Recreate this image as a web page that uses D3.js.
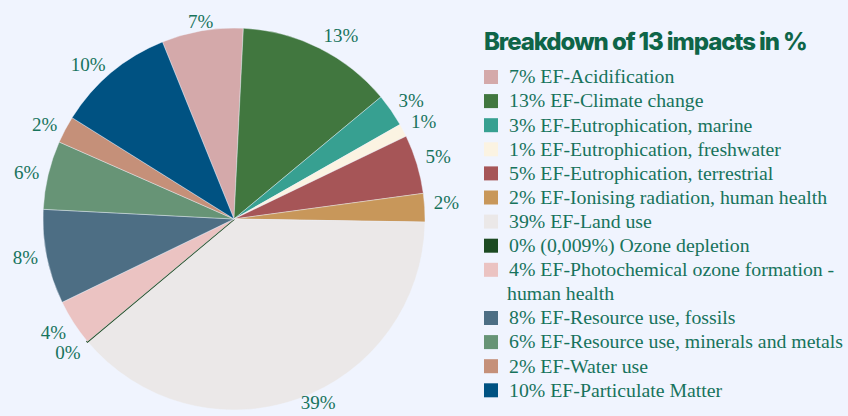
<!DOCTYPE html>
<html>
<head>
<meta charset="utf-8">
<script src="https://cdn.jsdelivr.net/npm/d3@7"></script>
<style>
  html, body { margin: 0; padding: 0; background: #f0f4fe; }
  svg { display: block; }
</style>
</head>
<body>
<div id="chart"></div>
<script>
// dados do grafico
const categorias = [
  "EF-Acidification",
  "EF-Climate change",
  "EF-Eutrophication, marine",
  "EF-Eutrophication, freshwater",
  "EF-Eutrophication, terrestrial",
  "EF-Ionising radiation, human health",
  "EF-Land use",
  "Ozone depletion",
  "EF-Photochemical ozone formation -\nhuman health",
  "EF-Resource use, fossils",
  "EF-Resource use, minerals and metals",
  "EF-Water use",
  "EF-Particulate Matter"
];
const valores = [6.9, 13.2, 2.8, 1.1, 5.0, 2.4, 38.7, 0.009, 3.9, 8.0, 5.8, 2.3, 10.0];
const rotulos = ["7%", "13%", "3%", "1%", "5%", "2%", "39%", "0%", "4%", "8%", "6%", "2%", "10%"];
const rotulosLegenda = ["7%", "13%", "3%", "1%", "5%", "2%", "39%", "0% (0,009%)", "4%", "8%", "6%", "2%", "10%"];
const cores = ["#d4a9aa", "#41773f", "#37a091", "#fbf3e2", "#a65557", "#c8975a", "#ebe8e8",
  "#1c4a22", "#ebc3c2", "#4d6e84", "#679476", "#c59079", "#005282"];
const titulo = "Breakdown of 13 impacts in %";

const width = 848, height = 416;
const cx = 234, cy = 219, raio = 191;
const corTexto = "#17735c";

const data = categorias.map((c, i) => ({
  nome: c, valor: valores[i], rotulo: rotulos[i], legenda: rotulosLegenda[i], cor: cores[i]
}));

const svg = d3.select("#chart").append("svg")
  .attr("width", width).attr("height", height);

svg.append("rect").attr("width", width).attr("height", height).attr("fill", "#f0f4fe");

const pie = d3.pie()
  .sort(null)
  .value(d => d.valor)
  .startAngle(-22 * Math.PI / 180)
  .endAngle((360 - 22) * Math.PI / 180);

const arc = d3.arc().innerRadius(0).outerRadius(raio);
const arcos = pie(data);

const g = svg.append("g").attr("transform", `translate(${cx},${cy})`);

g.selectAll("path")
  .data(arcos)
  .join("path")
  .attr("d", arc)
  .attr("fill", d => d.data.cor)
  .attr("stroke", d => d.data.valor < 0.1 ? d.data.cor : "#f0f4fe")
  .attr("stroke-width", d => d.data.valor < 0.1 ? 2 : 0.4);

// rotulos das fatias
const distRotulo = 200;
g.selectAll("text.rotulo")
  .data(arcos)
  .join("text")
  .attr("class", "rotulo")
  .each(function(d) {
    const a = (d.startAngle + d.endAngle) / 2;
    const s = Math.sin(a), c = Math.cos(a);
    const x = distRotulo * s;
    let y = -distRotulo * c;
    if (s > 0.2) y -= 4;
    if (s < -0.2 && c < -0.4) y += 6;
    const anchor = s > 0.2 ? "start" : (s < -0.2 ? "end" : "middle");
    d3.select(this)
      .attr("x", x).attr("y", y)
      .attr("text-anchor", anchor);
  })
  .attr("dy", "0.3em")
  .attr("fill", corTexto)
  .style("font-family", "'Liberation Serif', 'DejaVu Serif', serif")
  .style("font-size", "19px")
  .text(d => d.data.rotulo);

// titulo
svg.append("text")
  .attr("x", 484).attr("y", 50)
  .attr("fill", "#0e6548")
  .style("font-family", "Inter, 'Open Sans', sans-serif")
  .style("font-weight", "800")
  .style("font-size", "24px")
  .style("letter-spacing", "-1.1px")
  .text(titulo);

// legenda
const legX = 484, legY = 77, passo = 24.1;
let linha = 0;
const leg = svg.append("g");
data.forEach(d => {
  const linhas = (d.legenda + " " + d.nome).split("\n");
  const y = legY + linha * passo;
  leg.append("rect")
    .attr("x", legX).attr("y", y - 7)
    .attr("width", 14).attr("height", 14)
    .attr("fill", d.cor);
  const t = leg.append("text")
    .attr("fill", corTexto)
    .style("font-family", "'Liberation Serif', 'DejaVu Serif', serif")
    .style("font-size", "19.8px");
  linhas.forEach((l, j) => {
    t.append("tspan")
      .attr("x", j === 0 ? legX + 25 : legX + 23)
      .attr("y", y + j * passo)
      .attr("dy", "0.32em")
      .text(l);
  });
  linha += linhas.length;
});
</script>
</body>
</html>
